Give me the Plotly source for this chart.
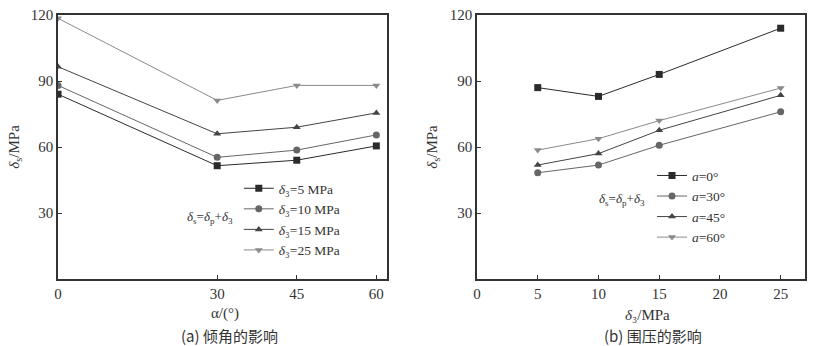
import plotly.graph_objects as go

# Left panel: effect of inclination angle
alpha = [0, 30, 45, 60]
s3_5 = [84, 51.5, 54, 60.5]
s3_10 = [88, 55.3, 58.6, 65.5]
s3_15 = [96.5, 66, 69, 75.5]
s3_25 = [118.5, 81.2, 88, 88]
left_names = ["<i>δ</i>₃=5 MPa", "<i>δ</i>₃=10 MPa",
              "<i>δ</i>₃=15 MPa", "<i>δ</i>₃=25 MPa"]

# Right panel: effect of confining pressure
sigma3 = [5, 10, 15, 25]
a0 = [87, 83, 93, 114]
a30 = [48.3, 51.8, 60.8, 76]
a45 = [51.8, 57, 67.6, 83.5]
a60 = [58.6, 63.8, 72, 86.8]
right_names = ["<i>a</i>=0°", "<i>a</i>=30°", "<i>a</i>=45°", "<i>a</i>=60°"]

colors = ["#2b2b2b", "#666666", "#444444", "#8a8a8a"]
symbols = ["square", "circle", "triangle-up", "triangle-down"]

fig = go.Figure()
for ys, nm, c, s in zip([s3_5, s3_10, s3_15, s3_25], left_names, colors, symbols):
    fig.add_trace(go.Scatter(x=alpha, y=ys, name=nm, mode="lines+markers",
                             line=dict(color=c, width=1),
                             marker=dict(symbol=s, size=7, color=c),
                             xaxis="x", yaxis="y", legend="legend"))
for ys, nm, c, s in zip([a0, a30, a45, a60], right_names, colors, symbols):
    fig.add_trace(go.Scatter(x=sigma3, y=ys, name=nm, mode="lines+markers",
                             line=dict(color=c, width=1),
                             marker=dict(symbol=s, size=7, color=c),
                             xaxis="x2", yaxis="y2", legend="legend2"))

serif = "Liberation Serif, Times New Roman, DejaVu Serif, serif"
tickfont = dict(family=serif, size=15, color="#333")
axcommon = dict(showline=True, linecolor="#333", linewidth=1.5, mirror=True,
                ticks="inside", ticklen=4, tickcolor="#333", showgrid=False,
                zeroline=False, tickfont=tickfont, automargin=False)

fig.update_layout(
    width=815, height=346, margin=dict(l=0, r=0, t=0, b=0, autoexpand=False),
    paper_bgcolor="white", plot_bgcolor="white",
    showlegend=True,
    xaxis=dict(domain=[0.0712, 0.4748], range=[0, 62], tickvals=alpha, anchor="y", **axcommon),
    yaxis=dict(domain=[0.1936, 0.9566], range=[0, 120], tickvals=[30, 60, 90, 120], anchor="x", **axcommon),
    xaxis2=dict(domain=[0.5853, 0.9877], range=[0, 27], tickvals=[0, 5, 10, 15, 20, 25], anchor="y2", **axcommon),
    yaxis2=dict(domain=[0.1936, 0.9566], range=[0, 120], tickvals=[30, 60, 90, 120], anchor="x2", **axcommon),
    legend=dict(x=0.293, y=0.50, xanchor="left", yanchor="top", bgcolor="white",
                font=dict(family=serif, size=13.5, color="#333"), tracegroupgap=0,
                itemwidth=30),
    legend2=dict(x=0.80, y=0.537, xanchor="left", yanchor="top", bgcolor="rgba(255,255,255,0)",
                 font=dict(family=serif, size=13.5, color="#333"), tracegroupgap=0,
                 itemwidth=30),
)

annos = [
    dict(text="<i>δ</i><sub>s</sub>/MPa", x=0.018, y=0.575, textangle=-90),
    dict(text="<i>δ</i><sub>s</sub>/MPa", x=0.531, y=0.575, textangle=-90),
    dict(text="α/(°)", x=0.276, y=0.095),
    dict(text="<i>δ</i>₃/MPa", x=0.795, y=0.09),
    dict(text="<i>δ</i><sub>s</sub>=<i>δ</i><sub>p</sub>+<i>δ</i><sub>3</sub>", x=0.258, y=0.37, size=13),
    dict(text="<i>δ</i><sub>s</sub>=<i>δ</i><sub>p</sub>+<i>δ</i><sub>3</sub>", x=0.763, y=0.422, size=13),
]
for a in annos:
    fig.add_annotation(text=a["text"], x=a["x"], y=a["y"], xref="paper", yref="paper",
                       xanchor="center", yanchor="middle",
                       showarrow=False, textangle=a.get("textangle", 0),
                       font=dict(family=serif, size=a.get("size", 15), color="#333"))

for txt, x in [("(a) 倾角的影响", 0.282), ("(b) 围压的影响", 0.801)]:
    fig.add_annotation(text=txt, x=x, y=0.03, xref="paper", yref="paper", showarrow=False,
                       xanchor="center", yanchor="middle",
                       font=dict(family="Noto Sans CJK SC", size=15, color="#333"))

fig.write_html("out.html", post_script="document.body.style.margin='0';", config={"displayModeBar": False})
